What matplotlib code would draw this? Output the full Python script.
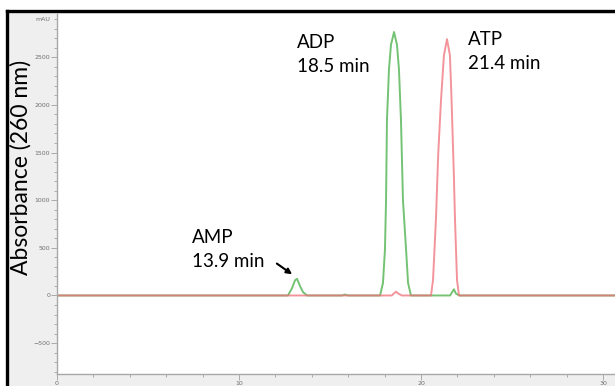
import matplotlib
matplotlib.use("Agg")
import matplotlib.pyplot as plt
from matplotlib.lines import Line2D
from matplotlib.patches import Rectangle
from matplotlib.ticker import MultipleLocator

# Traces (time in min, absorbance in mAU)
green_time = [0.0, 12.69, 12.91, 13.08, 13.19, 13.35, 13.52, 13.74, 15.65, 15.82, 16.0,
              17.75, 17.91, 18.02, 18.08, 18.13, 18.24, 18.35, 18.52, 18.68, 18.79,
              18.90, 19.01, 19.18, 19.29, 19.45, 21.6, 21.71, 21.81, 21.92, 22.1, 30.7]
green_abs = [0, 0, 75, 160, 175, 100, 35, 0, 0, 10, 0,
             0, 130, 480, 1000, 1840, 2370, 2630, 2765, 2630, 2370,
             1840, 1000, 480, 130, 0, 0, 35, 65, 20, 0, 0]

red_time = [0.0, 18.4, 18.53, 18.63, 18.75, 18.95, 20.55, 20.66, 20.82, 20.95, 21.1,
            21.26, 21.43, 21.59, 21.68, 21.8, 21.87, 21.98, 22.09, 30.7]
red_abs = [0, 0, 25, 40, 20, 0, 0, 160, 790, 1500, 2050,
           2520, 2690, 2520, 2050, 1300, 790, 160, 0, 0]

peak_labels = ["AMP\n13.9 min", "ADP\n18.5 min", "ATP\n21.4 min"]
label_pos = [(7.4, 300), (13.2, 2345), (22.6, 2375)]

fig = plt.figure(figsize=(6.15, 3.86), dpi=100)
fig.patch.set_facecolor("white")

# grey instrument-software frame with black border
fig.add_artist(Rectangle((9 / 615, 0), 1, 1 - 13 / 386, transform=fig.transFigure,
                         facecolor="#efefef", edgecolor="none", zorder=0))
fig.add_artist(Line2D([7 / 615, 1], [1 - 11 / 386, 1 - 11 / 386], transform=fig.transFigure,
                      color="black", lw=2.4))
fig.add_artist(Line2D([7 / 615, 7 / 615], [0, 1 - 11 / 386], transform=fig.transFigure,
                      color="black", lw=2.4))

ax = fig.add_axes([57 / 615, 12 / 386, 558 / 615, 360 / 386])
ax.set_facecolor("white")

ax.plot(green_time, green_abs, color="#74c274", lw=1.4)
ax.plot(red_time, red_abs, color="#f0707a", lw=1.4, alpha=0.75)

ax.set_xlim(0, 30.66)
ax.set_ylim(-824, 2954)

for s in ["top", "right"]:
    ax.spines[s].set_visible(False)
for s in ["left", "bottom"]:
    ax.spines[s].set_color("#a8a8a8")
    ax.spines[s].set_linewidth(1.0)

ax.xaxis.set_major_locator(MultipleLocator(10))
ax.xaxis.set_minor_locator(MultipleLocator(2))
ax.yaxis.set_minor_locator(MultipleLocator(100))
ax.set_yticks([-500, 0, 500, 1000, 1500, 2000, 2500])
ax.tick_params(which="both", colors="#a0a0a0", labelcolor="#707070", labelsize=4.5,
               width=0.6)
ax.tick_params(which="major", length=4, pad=1)
ax.tick_params(which="minor", length=2)

ax.text(-0.012, 2900, "mAU", transform=ax.get_yaxis_transform(), ha="right", va="center",
        fontsize=4.5, color="#707070")

fig.text(21 / 615, 1 - 167 / 386, "Absorbance (260 nm)", rotation=90, ha="center",
         va="center", fontsize=16.5, family="Lato")

for txt, (x, y) in zip(peak_labels, label_pos):
    ax.text(x, y, txt, ha="left", va="baseline", fontsize=13.5, family="Lato",
            linespacing=1.5)

ax.annotate("", xy=(12.92, 222), xytext=(12.08, 335),
            arrowprops=dict(arrowstyle="-|>", color="black", lw=1.5, mutation_scale=8,
                            shrinkA=0, shrinkB=0))

fig.savefig("out.png", dpi=100, facecolor=fig.get_facecolor())
